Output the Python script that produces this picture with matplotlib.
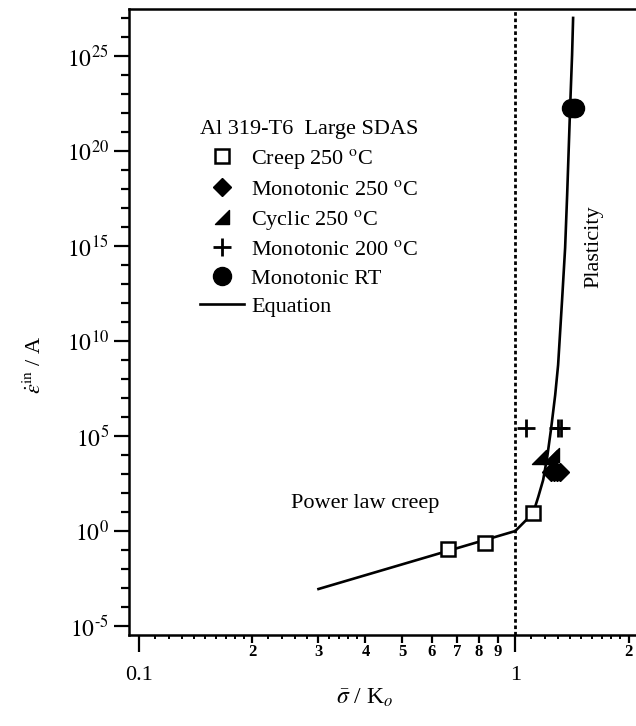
import matplotlib
matplotlib.use("Agg")
import matplotlib.pyplot as plt
from matplotlib.path import Path

plt.rcParams['font.family'] = ['Liberation Serif', 'DejaVu Serif']
plt.rcParams['mathtext.fontset'] = 'stix'

# data: x = sigma/K_o, y as log10 of rate/A
creep_x = [0.664, 0.832, 1.116]
creep_logy = [-0.95, -0.63, 0.95]
mono250_x = [1.245, 1.27, 1.293, 1.315]
mono250_logy = [3.1, 3.1, 3.1, 3.1]
cyclic_x = [1.16, 1.235, 1.255]
cyclic_logy = [3.9, 3.9, 4.0]
mono200_x = [1.07, 1.30, 1.32]
mono200_logy = [5.4, 5.4, 5.4]
monort_x = [1.41, 1.43, 1.445]
monort_logy = [22.25, 22.25, 22.25]
eq_x = [0.30, 1.00, 1.056, 1.116, 1.151, 1.186, 1.216, 1.246, 1.277, 1.30,
        1.332, 1.357, 1.374, 1.399, 1.416, 1.425]
eq_logy = [-3.05, 0.0, 0.47, 0.95, 1.79, 2.68, 3.89, 5.42, 7.16, 8.74,
           12.16, 14.9, 17.7, 22.26, 25.05, 27.0]

y_major_exp = [-5, 0, 5, 10, 15, 20, 25]
x_major = [0.1, 1.0]
x_major_labels = ['0.1', '1']
x_minor = [0.2, 0.3, 0.4, 0.5, 0.6, 0.7, 0.8, 0.9, 2.0]
x_minor_labels = ['2', '3', '4', '5', '6', '7', '8', '9', '2']
x_subminor = [0.11, 0.12, 0.13, 0.14, 0.15, 0.16, 0.17, 0.18, 0.19,
              0.22, 0.24, 0.26, 0.28, 0.32, 0.34, 0.36, 0.38,
              1.1, 1.2, 1.3, 1.4, 1.5, 1.6, 1.7, 1.8, 1.9]


def tolin(v):
    return [10.0 ** e for e in v]


def exp_label(e):
    if e < 0:
        return r'$10^{\text{-}%d}$' % (-e)
    return r'$10^{%d}$' % e


fig = plt.figure(figsize=(6.36, 7.26), dpi=100)
ax = fig.add_axes([129 / 636, 91 / 726, 531 / 636, 626 / 726])
ax.set_xscale('log')
ax.set_yscale('log')

half_tri = Path([(-1, -1), (1, -1), (1, 1), (-1, -1)],
                [Path.MOVETO, Path.LINETO, Path.LINETO, Path.CLOSEPOLY])

ax.plot(creep_x, tolin(creep_logy), ls='none', marker='s', ms=10.5, mfc='white',
        mec='k', mew=1.8, zorder=4, label=r'Creep 250 $^{\rm o}$C')
ax.plot(mono250_x, tolin(mono250_logy), ls='none', marker='D', ms=9.5, color='k',
        zorder=4, label=r'Monotonic 250 $^{\rm o}$C')
ax.plot(cyclic_x, tolin(cyclic_logy), ls='none', marker=half_tri, ms=10, color='k',
        zorder=4, label=r'Cyclic 250 $^{\rm o}$C')
ax.plot(mono200_x, tolin(mono200_logy), ls='none', marker='+', ms=13, mew=2,
        color='k', zorder=4, label=r'Monotonic 200 $^{\rm o}$C')
ax.plot(monort_x, tolin(monort_logy), ls='none', marker='o', ms=13, color='k',
        zorder=4, label='Monotonic RT')
ax.plot(eq_x, tolin(eq_logy), color='k', lw=1.9, zorder=3, label='Equation')

ax.axvline(1.0, color='k', lw=2, ls=(0, (1.3, 1.0)), zorder=2)

ax.set_xlim(0.0941, 2.425)
ax.set_ylim(10 ** -5.47, 10 ** 27.47)

# y ticks
ax.set_yticks(tolin(y_major_exp), labels=[exp_label(e) for e in y_major_exp])
ax.set_yticks(tolin(range(-5, 28)), minor=True)
ax.yaxis.set_minor_formatter(plt.NullFormatter())
ax.tick_params(axis='y', which='major', direction='out', length=11, width=1.6,
               pad=3.5, labelsize=17)
ax.tick_params(axis='y', which='minor', direction='out', length=5.5, width=1.6)

# x ticks
ax.set_xticks(x_major, labels=x_major_labels)
ax.set_xticks(x_minor, labels=x_minor_labels, minor=True, fontsize=12,
              fontweight='bold')
ax.tick_params(axis='x', which='major', direction='out', length=12, width=1.6,
               pad=10, labelsize=16)
ax.tick_params(axis='x', which='minor', direction='out', length=6, width=1.6, pad=0.5)

ax2 = ax.twiny()
ax2.set_xscale('log')
ax2.set_xlim(ax.get_xlim())
ax2.xaxis.set_ticks_position('bottom')
ax2.set_xticks(x_subminor, labels=[''] * len(x_subminor))
ax2.xaxis.set_minor_locator(plt.NullLocator())
ax2.tick_params(axis='x', which='major', direction='out', length=3, width=1.4)
for s in ax2.spines.values():
    s.set_visible(False)

for s in ax.spines.values():
    s.set_linewidth(1.8)

ax.set_xlabel(r'$\bar{\sigma}$ / K$_o$', fontsize=17)
ax.xaxis.label.set_va('center')
ax.xaxis.set_label_coords(0.444, -0.1)
ax.set_ylabel(r'$\dot{\varepsilon}^{\rm in}$ / A', fontsize=16)
ax.yaxis.label.set_va('center')
ax.yaxis.set_label_coords(-0.177, 0.431)

ax.text(0.253, 10 ** 1.21, 'Power law creep', fontsize=16, ha='left', va='baseline')
ax.text(1.62, 10 ** 14.95, 'Plasticity', fontsize=16, rotation=90,
        ha='center', va='center')

leg = ax.legend(title='Al 319-T6  Large SDAS', loc='upper left',
                bbox_to_anchor=(200 / 636, 1 - 120 / 726),
                bbox_transform=fig.transFigure, frameon=False, fontsize=16,
                title_fontsize=16, numpoints=1, handlelength=2.0,
                handletextpad=0.3, labelspacing=0.36, borderpad=0,
                borderaxespad=0, alignment='left')

fig.savefig('out.png', dpi=100)
